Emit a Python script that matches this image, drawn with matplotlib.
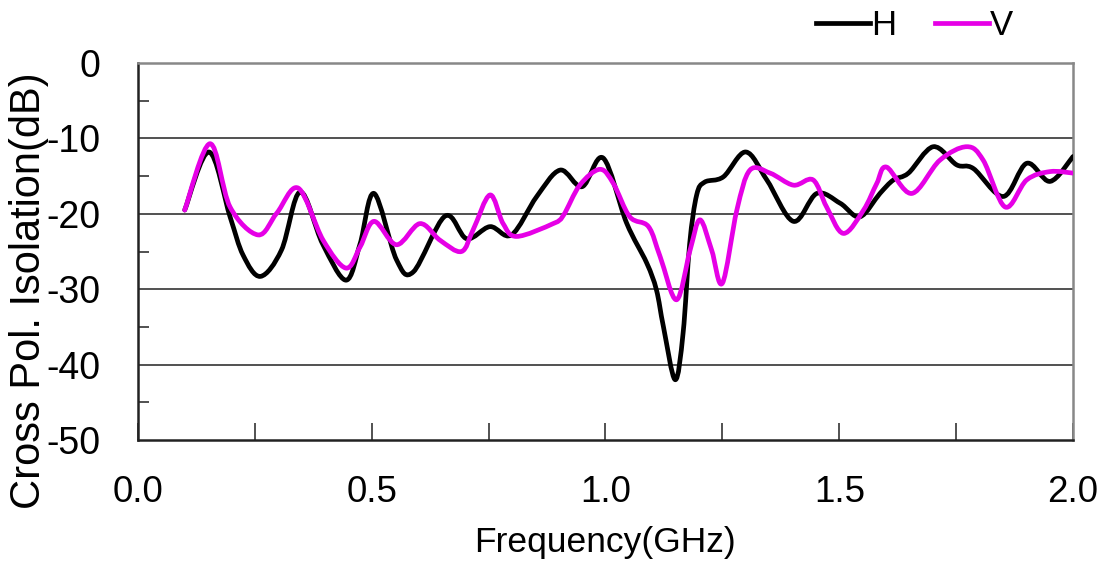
"""
Cross polarisation isolation vs frequency, H and V ports.
"""

import numpy as np
import matplotlib
matplotlib.use('Agg')
import matplotlib.pyplot as plt
from matplotlib.path import Path
from matplotlib.patches import PathPatch
from matplotlib.lines import Line2D
from matplotlib.ticker import MultipleLocator

plt.rcParams['font.family'] = ['Liberation Sans', 'DejaVu Sans']

# values
freq_h = [0.100, 0.152, 0.197, 0.225, 0.262, 0.307, 0.347, 0.395, 0.445, 0.475,
          0.505, 0.553, 0.589, 0.657, 0.703, 0.753, 0.799, 0.853, 0.903, 0.950,
          0.995, 1.045, 1.088, 1.109, 1.124, 1.149, 1.166, 1.180, 1.195, 1.212,
          1.252, 1.300, 1.345, 1.402, 1.452, 1.502, 1.544, 1.587, 1.616, 1.648,
          1.701, 1.751, 1.787, 1.851, 1.901, 1.951, 2.000]
iso_h = [-19.5, -11.8, -20.4, -25.5, -28.3, -24.8, -17.1, -24.0, -28.8, -24.0,
         -17.3, -26.1, -27.7, -20.3, -23.3, -21.7, -22.8, -17.7, -14.2, -16.4,
         -12.6, -21.2, -26.5, -30.1, -35.0, -42.0, -35.8, -24.0, -17.5, -15.8,
         -15.1, -11.8, -15.5, -21.0, -17.3, -18.6, -20.4, -17.3, -15.5, -14.6,
         -11.1, -13.5, -14.0, -17.7, -13.3, -15.7, -12.4]

freq_v = [0.100, 0.154, 0.197, 0.257, 0.297, 0.343, 0.396, 0.445, 0.475, 0.505,
          0.553, 0.603, 0.646, 0.692, 0.717, 0.753, 0.781, 0.810, 0.888, 0.910,
          0.945, 0.988, 1.017, 1.052, 1.092, 1.117, 1.152, 1.181, 1.202, 1.227,
          1.250, 1.281, 1.309, 1.352, 1.402, 1.444, 1.473, 1.509, 1.552, 1.580,
          1.601, 1.655, 1.715, 1.773, 1.808, 1.855, 1.901, 1.951, 2.000]
iso_v = [-19.5, -10.7, -19.1, -22.8, -19.9, -16.6, -23.5, -27.2, -24.4, -21.0,
         -24.1, -21.3, -23.5, -25.0, -22.1, -17.5, -21.3, -23.0, -21.3, -20.2,
         -16.2, -14.1, -16.0, -20.4, -21.7, -25.7, -31.4, -24.8, -20.8, -24.8,
         -29.2, -19.5, -14.2, -14.6, -16.2, -15.5, -19.1, -22.6, -19.5, -16.0,
         -13.8, -17.3, -12.9, -11.1, -12.9, -19.1, -15.5, -14.4, -14.6]

ytick_vals = [0, -10, -20, -30, -40, -50]
ytick_text = ['0', '-10', '-20', '-30', '-40', '-50']
xtick_vals = [0.0, 0.5, 1.0, 1.5, 2.0]
xtick_text = ['0.0', '0.5', '1.0', '1.5', '2.0']


def smooth_path(xs, ys):
    """Catmull-Rom through the points, as cubic bezier segments."""
    pts = np.column_stack([xs, ys])
    pad = np.vstack([pts[:1], pts, pts[-1:]])
    verts = [pts[0]]
    codes = [Path.MOVETO]
    for i in range(1, len(pad) - 2):
        p0, p1, p2, p3 = pad[i - 1], pad[i], pad[i + 1], pad[i + 2]
        verts += [p1 + (p2 - p0) / 6., p2 - (p3 - p1) / 6., p2]
        codes += [Path.CURVE4] * 3
    return Path(verts, codes)


def main():
    fig = plt.figure(figsize=(11.02, 5.77), dpi=100)
    ax = fig.add_axes([0.1252, 0.2374, 0.8485, 0.6534])

    c_h = 'black'
    c_v = '#E600E6'

    for xs, ys, col in [(freq_h, iso_h, c_h), (freq_v, iso_v, c_v)]:
        ax.add_patch(PathPatch(smooth_path(xs, ys), fill=False, ec=col,
                               lw=3.4, capstyle='round', joinstyle='round',
                               zorder=3))

    ax.set_xlim(0, 2.0)
    ax.set_ylim(-50, 0)

    for val in ytick_vals[1:-1]:
        ax.axhline(val, color='#333333', lw=1.2, zorder=1)

    ax.set_yticks(ytick_vals)
    ax.set_yticklabels(ytick_text)
    ax.yaxis.set_minor_locator(MultipleLocator(5))
    ax.set_xticks(xtick_vals)
    ax.set_xticklabels(xtick_text)
    ax.xaxis.set_minor_locator(MultipleLocator(0.25))

    ax.tick_params(axis='y', which='major', length=0, pad=27, labelsize=27)
    ax.tick_params(axis='y', which='minor', direction='in', length=8,
                   width=1.2, color='#333333')
    ax.tick_params(axis='x', which='both', direction='in', length=12,
                   width=1.2, color='#333333', pad=25, labelsize=26.5)

    for side in ['left', 'bottom']:
        ax.spines[side].set_color('#222222')
        ax.spines[side].set_linewidth(1.8)
    for side in ['top', 'right']:
        ax.spines[side].set_color('#888888')
        ax.spines[side].set_linewidth(1.8)

    ax.set_xlabel('Frequency(GHz)', fontsize=25.5, labelpad=12)
    fig.text(0.026, 0.497, 'Cross Pol. Isolation(dB)', rotation=90,
             fontsize=30, ha='center', va='center')

    line_h = Line2D([0, 1], [0, 1], color=c_h, lw=3.4)
    line_v = Line2D([0, 1], [0, 1], color=c_v, lw=3.4)
    fig.legend([line_h, line_v], ['H', 'V'], loc='center',
               bbox_to_anchor=(0.830, 0.956), ncol=2, frameon=False,
               fontsize=25, handlelength=1.55, handletextpad=0.05,
               columnspacing=1.1)

    fig.savefig('out.png', dpi=100)


if __name__ == "__main__":
    main()
